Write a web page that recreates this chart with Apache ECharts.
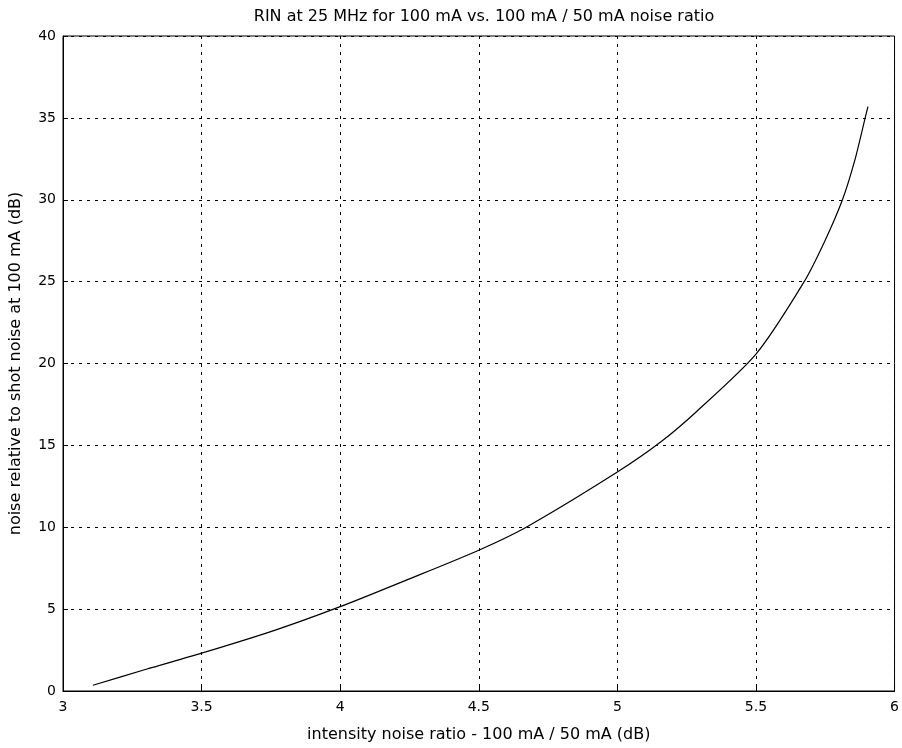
<!DOCTYPE html>
<html>
<head>
<meta charset="utf-8">
<script src="https://cdn.jsdelivr.net/npm/echarts@6/dist/echarts.min.js"></script>
<style>
  html, body { margin: 0; padding: 0; background: #fff; }
  #chart { width: 902px; height: 748px; }
</style>
</head>
<body>
<div id="chart"></div>
<script>
// intensity noise ratio (dB) and noise relative to shot noise (dB)
const ratioDb = [3.108, 3.3, 3.5, 3.766, 4.0, 4.25, 4.5, 4.676, 5.0, 5.156, 5.288, 5.5, 5.674, 5.749, 5.812, 5.857, 5.894, 5.904];
const noiseDb = [0.35, 1.33, 2.31, 3.72, 5.15, 6.85, 8.6, 10.05, 13.37, 15.2, 17.1, 20.57, 25.0, 27.5, 30.0, 32.44, 35.0, 35.69];
const xTicks = [3, 3.5, 4, 4.5, 5, 5.5, 6];
const yTicks = [0, 5, 10, 15, 20, 25, 30, 35, 40];

const font = "DejaVu Sans";
const points = ratioDb.map((x, i) => [x, noiseDb[i]]);

const myChart = echarts.init(document.getElementById("chart"));
let option = {
  backgroundColor: "#fff",
  animation: false,
  title: {
    text: "RIN at 25 MHz for 100 mA vs. 100 mA / 50 mA noise ratio",
    left: 479,
    top: 4,
    textAlign: "center",
    textStyle: { fontFamily: font, fontSize: 16, fontWeight: "normal", color: "#000" },
  },
  grid: {
    left: 60,
    right: 7,
    top: 36,
    bottom: 55,
    show: true,
    borderColor: "#000",
    borderWidth: 1,
  },
  xAxis: {
    type: "value",
    min: xTicks[0],
    max: xTicks[xTicks.length - 1],
    interval: 0.5,
    name: "intensity noise ratio - 100 mA / 50 mA (dB)",
    nameLocation: "middle",
    nameGap: 44,
    nameTextStyle: { fontFamily: font, fontSize: 16, color: "#000", verticalAlign: "middle" },
    axisLine: { lineStyle: { color: "#000", width: 1 } },
    axisTick: { inside: true, length: 5, lineStyle: { color: "#000" } },
    axisLabel: { fontFamily: font, fontSize: 14, color: "#000", margin: 9 },
    splitLine: { show: true, lineStyle: { color: "#000", type: [3, 5], width: 1 } },
  },
  yAxis: {
    type: "value",
    min: yTicks[0],
    max: yTicks[yTicks.length - 1],
    interval: 5,
    name: "noise relative to shot noise at 100 mA (dB)",
    nameLocation: "middle",
    nameGap: 47,
    nameTextStyle: { fontFamily: font, fontSize: 16, color: "#000", verticalAlign: "middle" },
    axisLine: { show: true, lineStyle: { color: "#000", width: 1 } },
    axisTick: { show: true, inside: true, length: 5, lineStyle: { color: "#000" } },
    axisLabel: { fontFamily: font, fontSize: 14, color: "#000", margin: 7 },
    splitLine: { show: true, lineStyle: { color: "#000", type: [3, 5], width: 1 } },
  },
  series: [
    {
      type: "line",
      data: points,
      showSymbol: false,
      smooth: 0.25,
      lineStyle: { color: "#000", width: 1.2 },
    },
  ],
};

option && myChart.setOption(option);
</script>
</body>
</html>
